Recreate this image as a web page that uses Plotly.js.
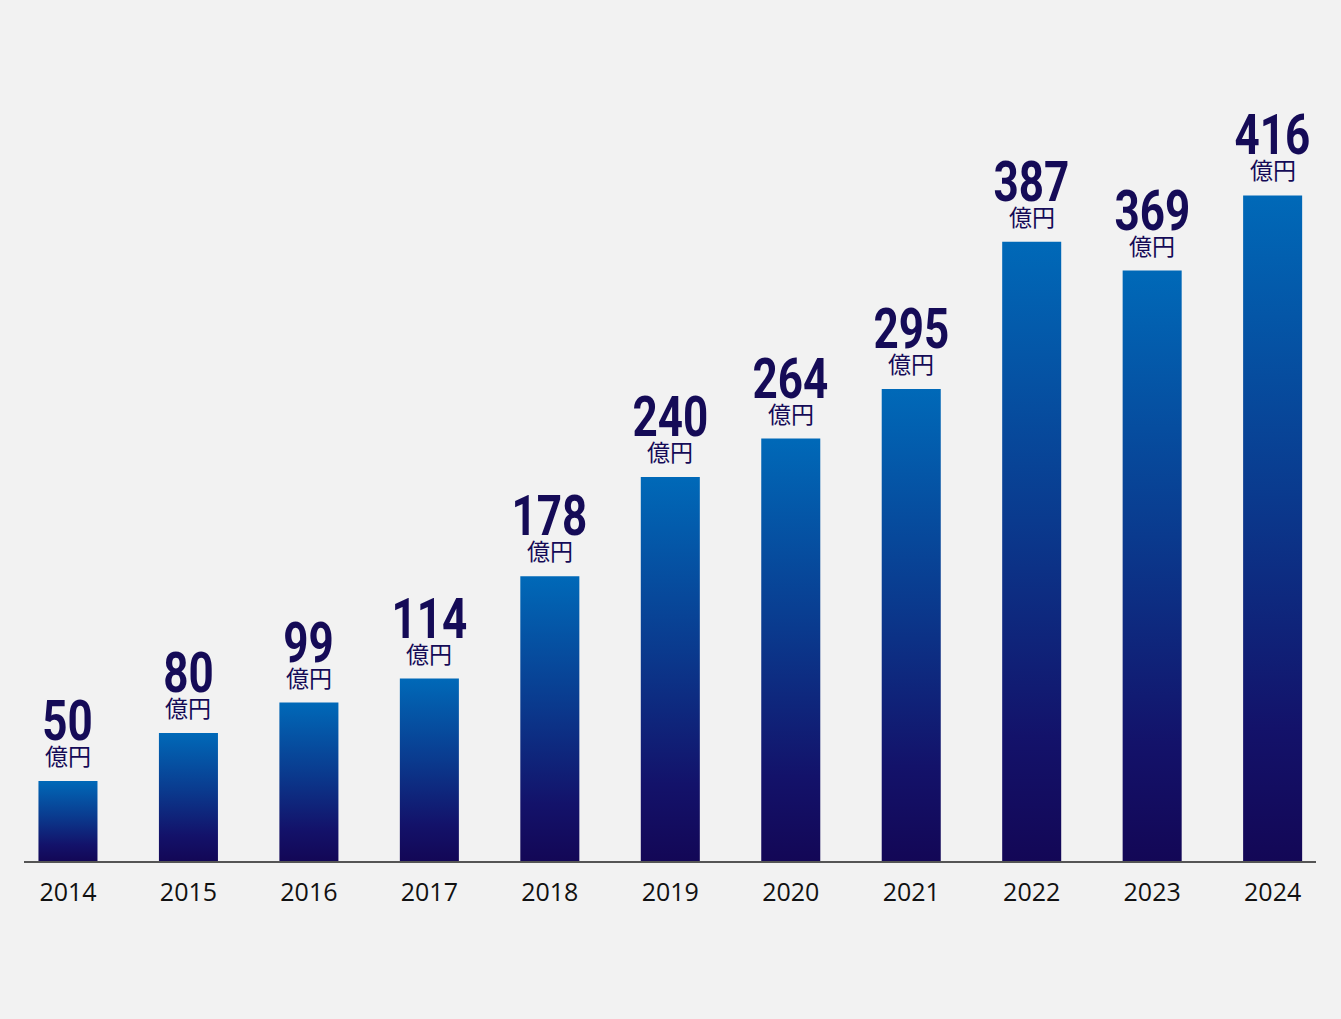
<!DOCTYPE html>
<html>
<head>
<meta charset="utf-8">
<script src="https://cdn.plot.ly/plotly-3.0.1.min.js"></script>
<style>
html,body{margin:0;padding:0;background:#f2f2f2;}
#chart{width:1341px;height:1019px;}
</style>
</head>
<body>
<div id="chart"></div>
<script>
const years = ["2014","2015","2016","2017","2018","2019","2020","2021","2022","2023","2024"];
const values = [50, 80, 99, 114, 178, 240, 264, 295, 387, 369, 416];
const unitLabel = "億円";

const navy = "#150b57";

const annotations = [];
years.forEach((y, i) => {
  annotations.push({
    x: i, y: values[i], xref: "x", yref: "y",
    text: String(values[i]),
    showarrow: false, yanchor: "bottom", xanchor: "center",
    yshift: 26,
    font: {family: "Roboto", size: 55, weight: 700, color: navy}
  });
  annotations.push({
    x: i, y: values[i], xref: "x", yref: "y",
    text: unitLabel,
    showarrow: false, yanchor: "bottom", xanchor: "center",
    yshift: 7,
    font: {family: "Noto Sans CJK JP", size: 23, color: navy}
  });
});

const data = [{
  type: "bar",
  x: years,
  y: values,
  width: 0.49,
  marker: {color: "#0a2a80"}
}];

const layout = {
  width: 1341, height: 1019,
  paper_bgcolor: "#f2f2f2", plot_bgcolor: "#f2f2f2",
  margin: {l: 24, r: 25, t: 61, b: 158},
  showlegend: false,
  xaxis: {
    type: "category",
    range: [-0.365, 10.36],
    showline: true, linecolor: "#555555", linewidth: 2,
    ticks: "", showgrid: false, zeroline: false,
    tickfont: {family: "Open Sans", size: 25, color: "#111111"},
    ticklabelstandoff: 8
  },
  yaxis: {range: [0, 500], visible: false},
  annotations: annotations
};

Plotly.newPlot("chart", data, layout, {staticPlot: true}).then(gd => {
  const ns = "http://www.w3.org/2000/svg";
  const svg = gd.querySelector(".main-svg");
  let defs = svg.querySelector("defs");
  if (!defs) { defs = document.createElementNS(ns, "defs"); svg.insertBefore(defs, svg.firstChild); }
  const grad = document.createElementNS(ns, "linearGradient");
  grad.setAttribute("id", "barGrad");
  grad.setAttribute("x1", "0"); grad.setAttribute("y1", "0");
  grad.setAttribute("x2", "0"); grad.setAttribute("y2", "1");
  [["0%", "#0069b8"], ["45%", "#0a3a8e"], ["80%", "#13126a"], ["100%", "#130756"]].forEach(s => {
    const st = document.createElementNS(ns, "stop");
    st.setAttribute("offset", s[0]); st.setAttribute("stop-color", s[1]);
    grad.appendChild(st);
  });
  defs.appendChild(grad);
  gd.querySelectorAll(".barlayer .point path").forEach(p => { p.style.fill = "url(#barGrad)"; });
  // condense the value numbers horizontally
  gd.querySelectorAll(".annotation").forEach((a, k) => {
    if (k % 2 !== 0) return;
    const t = a.querySelector("text.annotation-text");
    if (!t) return;
    const bb = t.getBBox();
    const cx = bb.x + bb.width / 2;
    const prev = t.getAttribute("transform") || "";
    t.setAttribute("transform", prev + " translate(" + cx + ",0) scale(0.8,1) translate(" + (-cx) + ",0)");
  });
});
</script>
</body>
</html>
